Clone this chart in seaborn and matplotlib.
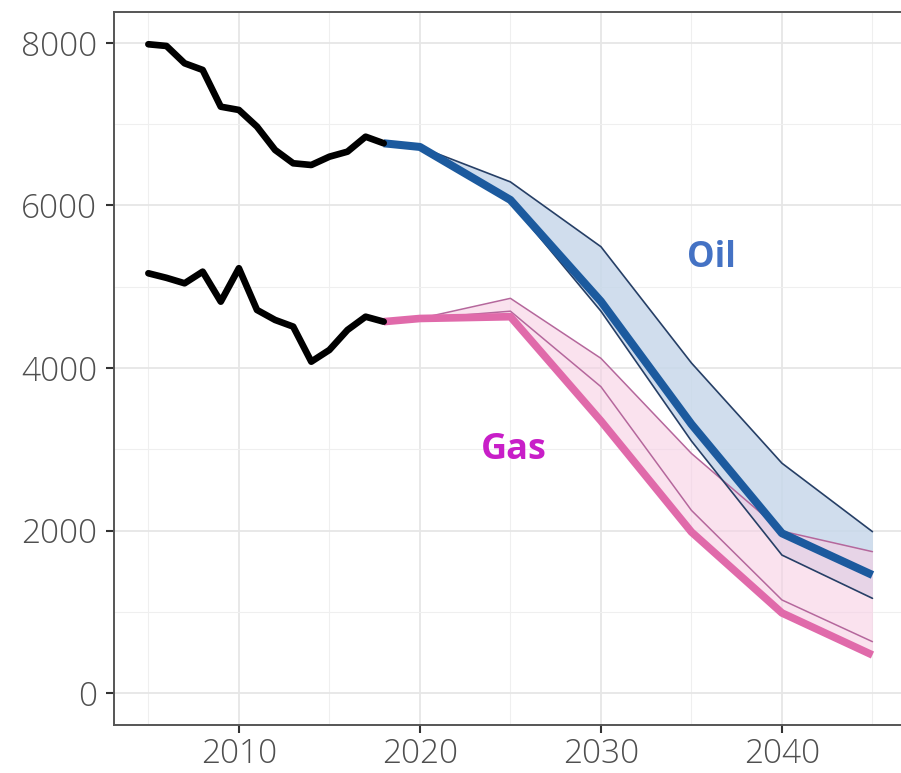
import numpy as np
import pandas as pd
import matplotlib
matplotlib.use("Agg")
import matplotlib.pyplot as plt
import seaborn as sns
from matplotlib.ticker import MultipleLocator

# ---------------- data ----------------
hist_years = [2005, 2006, 2007, 2008, 2009, 2010, 2011, 2012, 2013, 2014, 2015, 2016, 2017, 2018]
oil_hist = [7983, 7962, 7749, 7667, 7215, 7175, 6970, 6683, 6519, 6498, 6600, 6662, 6846, 6765]
gas_hist = [5166, 5110, 5043, 5186, 4817, 5228, 4715, 4592, 4510, 4079, 4223, 4469, 4632, 4571]

proj_years = [2018, 2020, 2025, 2030, 2035, 2040, 2045]
oil_main = [6765, 6720, 6068, 4820, 3310, 1968, 1455]
oil_high = [6765, 6720, 6290, 5493, 4063, 2830, 1988]
oil_low = [6765, 6720, 6040, 4700, 3103, 1700, 1168]
gas_main = [4571, 4610, 4632, 3350, 1984, 988, 471]
gas_high = [4571, 4610, 4858, 4120, 2950, 1995, 1742]
gas_mid = [4571, 4610, 4700, 3771, 2250, 1148, 635]

x_ticks = [2010, 2020, 2030, 2040]
y_ticks = [0, 2000, 4000, 6000, 8000]

# ---------------- style ----------------
sns.set_theme(style="white")
plt.rcParams['font.family'] = ['Open Sans', 'DejaVu Sans']

fig = plt.figure(figsize=(9.01, 7.73), dpi=100)
ax = fig.add_axes([0.1265, 0.0621, 0.8820, 0.9224])

hist = pd.DataFrame({"year": hist_years, "oil": oil_hist, "gas": gas_hist})
proj = pd.DataFrame({"year": proj_years, "oil_main": oil_main, "oil_high": oil_high,
                     "oil_low": oil_low, "gas_main": gas_main, "gas_high": gas_high,
                     "gas_mid": gas_mid})

oil_fill = "#c8d8ea"
gas_fill = "#f7cfe4"
oil_thick = "#1c5a9e"
oil_thin = "#263f66"
gas_thick = "#e06aaa"
gas_thin = "#b5679c"

# ribbons
ax.fill_between(proj["year"], np.minimum(proj["oil_low"], proj["oil_main"]),
                np.maximum(proj["oil_high"], proj["oil_main"]),
                color=oil_fill, alpha=0.85, lw=0, zorder=1)
ax.fill_between(proj["year"], proj["gas_main"], proj["gas_high"],
                color=gas_fill, alpha=0.6, lw=0, zorder=2)

# thin scenario lines
for col, c in [("oil_high", oil_thin), ("oil_low", oil_thin)]:
    sns.lineplot(data=proj, x="year", y=col, color=c, lw=1.2, ax=ax, zorder=4)
for col in ["gas_high", "gas_mid"]:
    sns.lineplot(data=proj, x="year", y=col, color=gas_thin, lw=1.1, ax=ax, zorder=3)

# thick main lines
sns.lineplot(data=proj, x="year", y="gas_main", color=gas_thick, lw=5.5, ax=ax, zorder=5,
             solid_capstyle="butt")
sns.lineplot(data=proj, x="year", y="oil_main", color=oil_thick, lw=5.8, ax=ax, zorder=6,
             solid_capstyle="butt")

# historical
sns.lineplot(data=hist, x="year", y="oil", color="black", lw=4.8, ax=ax, zorder=7)
sns.lineplot(data=hist, x="year", y="gas", color="black", lw=4.8, ax=ax, zorder=7)

# labels
ax.text(2036.1, 5348, "Oil", color="#4472c4", fontsize=25, fontweight="bold",
        ha="center", va="center", zorder=8)
ax.text(2025.2, 2993, "Gas", color="#c81ec8", fontsize=26, fontweight="bold",
        ha="center", va="center", zorder=8)

# axes
ax.set_xlim(2003.1, 2047)
ax.set_ylim(-390, 8380)
ax.set_xticks(x_ticks)
ax.set_yticks(y_ticks)
ax.xaxis.set_minor_locator(MultipleLocator(5))
ax.yaxis.set_minor_locator(MultipleLocator(1000))
ax.set_xlabel("")
ax.set_ylabel("")
ax.grid(which="major", color="#e6e6e6", lw=1.3, zorder=0)
ax.grid(which="minor", color="#efefef", lw=0.8, zorder=0)
ax.set_axisbelow(True)
ax.tick_params(axis="both", which="major", length=6, width=1.5, color="#333333",
               labelsize=24, labelcolor="#4f4f4f", direction="out",
               bottom=True, left=True)
for lab in ax.get_xticklabels() + ax.get_yticklabels():
    lab.set_fontweight("light")
ax.tick_params(axis="x", pad=3)
ax.tick_params(axis="y", pad=6)
ax.tick_params(which="minor", length=0)
for s in ax.spines.values():
    s.set_color("#555555")
    s.set_linewidth(1.4)
ax.spines["right"].set_visible(False)
if ax.get_legend():
    ax.get_legend().remove()

fig.savefig("out.png", dpi=100)
